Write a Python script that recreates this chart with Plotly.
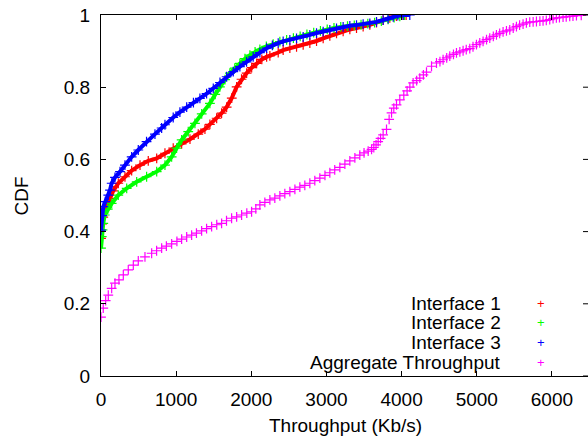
import plotly.graph_objects as go

# ---- data (throughput Kb/s, CDF) ----
if1_x = [0, 15, 30, 57, 120, 164, 230, 319, 408, 519, 629, 741, 851, 961, 1073, 1184, 1294, 1383,
         1449, 1539, 1605, 1672, 1740, 1805, 1870, 1938, 2005, 2071, 2140, 2204, 2247, 2358, 2424,
         2513, 2602, 2690, 2779, 2868, 2956, 3045, 3134, 3222, 3311, 3400, 3488, 3577, 3666, 3754,
         3843, 3930, 4020, 4060]
if1_y = [0.381, 0.421, 0.440, 0.462, 0.492, 0.513, 0.534, 0.552, 0.569, 0.584, 0.596, 0.603, 0.617,
         0.631, 0.643, 0.656, 0.670, 0.684, 0.697, 0.714, 0.728, 0.745, 0.770, 0.801, 0.822, 0.839,
         0.854, 0.866, 0.877, 0.884, 0.887, 0.896, 0.903, 0.908, 0.912, 0.917, 0.922, 0.928, 0.935,
         0.942, 0.949, 0.955, 0.960, 0.964, 0.968, 0.973, 0.979, 0.986, 0.992, 0.997, 1.0, 1.0]

if2_x = [0, 10, 20, 30, 50, 90, 142, 230, 342, 475, 607, 741, 851, 940, 1006, 1073, 1161, 1250,
         1340, 1449, 1520, 1582, 1650, 1715, 1780, 1848, 1915, 1981, 2050, 2114, 2200, 2291, 2380,
         2470, 2560, 2650, 2740, 2830, 2920, 3010, 3100, 3190, 3280, 3370, 3460, 3550, 3640, 3730,
         3820, 3900, 3976, 4040]
if2_y = [0.354, 0.386, 0.405, 0.423, 0.446, 0.462, 0.478, 0.501, 0.520, 0.538, 0.552, 0.566, 0.584,
         0.607, 0.631, 0.654, 0.677, 0.700, 0.726, 0.755, 0.780, 0.801, 0.821, 0.839, 0.853, 0.866,
         0.879, 0.889, 0.898, 0.905, 0.913, 0.919, 0.926, 0.931, 0.936, 0.941, 0.946, 0.951, 0.956,
         0.960, 0.964, 0.967, 0.969, 0.971, 0.973, 0.976, 0.979, 0.983, 0.988, 0.993, 0.996, 1.0]

if3_x = [0, 15, 30, 57, 97, 120, 142, 186, 253, 319, 408, 496, 606, 718, 807, 851, 961, 1050, 1140,
         1230, 1316, 1405, 1494, 1583, 1672, 1760, 1848, 1937, 2025, 2114, 2204, 2280, 2358, 2424,
         2513, 2602, 2690, 2779, 2868, 2956, 3045, 3134, 3222, 3311, 3400, 3488, 3577, 3666, 3754,
         3820, 3888, 3950, 4020, 4109]
if3_y = [0.404, 0.444, 0.469, 0.483, 0.501, 0.515, 0.534, 0.550, 0.566, 0.584, 0.607, 0.626, 0.649,
         0.670, 0.687, 0.696, 0.716, 0.731, 0.745, 0.757, 0.769, 0.782, 0.797, 0.813, 0.829, 0.843,
         0.857, 0.870, 0.884, 0.896, 0.908, 0.916, 0.922, 0.927, 0.931, 0.935, 0.939, 0.945, 0.950,
         0.954, 0.959, 0.963, 0.967, 0.970, 0.972, 0.975, 0.977, 0.981, 0.986, 0.990, 0.995, 0.998,
         1.0, 1.0]

agg_x = [0, 30, 62, 97, 142, 186, 239, 297, 363, 430, 496, 585, 674, 740, 807, 870, 940, 1010,
         1073, 1140, 1206, 1270, 1339, 1405, 1472, 1540, 1605, 1670, 1738, 1805, 1871, 1940, 2004,
         2060, 2114, 2180, 2247, 2313, 2380, 2446, 2513, 2580, 2646, 2712, 2779, 2845, 2912, 2980,
         3045, 3110, 3178, 3245, 3311, 3378, 3444, 3500, 3555, 3600, 3630, 3660, 3688, 3720, 3754,
         3799, 3834, 3866, 3896, 3932, 3976, 4029, 4073, 4110, 4153, 4200, 4242, 4290, 4331, 4398,
         4464, 4510, 4552, 4600, 4641, 4690, 4730, 4775, 4818, 4860, 4907, 4950, 4996, 5040, 5084,
         5130, 5173, 5220, 5262, 5305, 5350, 5395, 5439, 5485, 5528, 5570, 5616, 5660, 5705, 5750,
         5794, 5840, 5882, 5925, 5971, 6015, 6059, 6100, 6148, 6190, 6237, 6280, 6326, 6390, 6459]
agg_y = [0.163, 0.188, 0.209, 0.224, 0.243, 0.257, 0.266, 0.280, 0.294, 0.307, 0.319, 0.330, 0.340,
         0.347, 0.354, 0.360, 0.366, 0.373, 0.379, 0.385, 0.390, 0.396, 0.402, 0.408, 0.414, 0.419,
         0.423, 0.430, 0.437, 0.441, 0.446, 0.451, 0.455, 0.463, 0.474, 0.481, 0.488, 0.493, 0.499,
         0.505, 0.511, 0.517, 0.523, 0.528, 0.534, 0.541, 0.548, 0.556, 0.563, 0.571, 0.578, 0.587,
         0.596, 0.604, 0.612, 0.618, 0.623, 0.628, 0.633, 0.640, 0.649, 0.658, 0.668, 0.683, 0.711,
         0.729, 0.742, 0.751, 0.765, 0.778, 0.790, 0.800, 0.812, 0.818, 0.825, 0.834, 0.842, 0.858,
         0.867, 0.871, 0.876, 0.881, 0.886, 0.891, 0.895, 0.898, 0.901, 0.904, 0.907, 0.912, 0.918,
         0.923, 0.927, 0.932, 0.936, 0.941, 0.945, 0.949, 0.953, 0.956, 0.959, 0.964, 0.968, 0.972,
         0.975, 0.978, 0.980, 0.981, 0.982, 0.983, 0.984, 0.985, 0.987, 0.990, 0.992, 0.993, 0.994,
         0.995, 0.996, 0.997, 0.998, 0.999]

series_names = ["Interface 1", "Interface 2", "Interface 3", "Aggregate Throughput"]
series_colors = ["#ff0000", "#00ff00", "#0000ff", "#ff00ff"]

x_ticks = [0, 1000, 2000, 3000, 4000, 5000, 6000]
x_tick_labels = ["0", "1000", "2000", "3000", "4000", "5000", "6000"]
y_ticks = [0, 0.2, 0.4, 0.6, 0.8, 1.0]
y_tick_labels = ["0", "0.2", "0.4", "0.6", "0.8", "1"]

FONT = "Liberation Sans, Arial, sans-serif"

fig = go.Figure()
data = [(if1_x, if1_y), (if2_x, if2_y), (if3_x, if3_y), (agg_x, agg_y)]
for i, ((xs, ys), name, col) in enumerate(zip(data, series_names, series_colors)):
    dense = i < 3
    fig.add_trace(go.Scatter(
        x=xs, y=ys, name=name,
        mode="lines+markers" if dense else "markers",
        line=dict(color=col, width=4),
        marker=dict(symbol="cross-thin", size=7, color=col, line=dict(color=col, width=1.2)),
        showlegend=False,
    ))

# gnuplot-style legend: right-aligned text, marker to the right
L, R, T, B = 101, 0, 15, 60
W, H = 588 - L - R, 436 - T - B
def px_x(p):
    return (p - L) / W
def px_y(p):
    return (436 - B - p) / H

legend_rows = [303, 322.5, 342, 362]
for name, col, py in zip(series_names, series_colors, legend_rows):
    fig.add_annotation(xref="paper", yref="paper", x=px_x(503), y=px_y(py),
                       text=name, showarrow=False, xanchor="right", yanchor="middle",
                       font=dict(family=FONT, size=19, color="black"))
    fig.add_annotation(xref="paper", yref="paper", x=px_x(541), y=px_y(py),
                       text="+", showarrow=False, xanchor="center", yanchor="middle",
                       font=dict(family=FONT, size=13, color=col))

fig.add_annotation(xref="paper", yref="paper", x=px_x(21), y=px_y(196.5),
                   text="CDF", textangle=-90, showarrow=False,
                   xanchor="center", yanchor="middle",
                   font=dict(family=FONT, size=19, color="black"))
fig.add_annotation(xref="paper", yref="paper", x=px_x(345.5), y=px_y(425),
                   text="Throughput (Kb/s)", showarrow=False,
                   xanchor="center", yanchor="middle",
                   font=dict(family=FONT, size=19, color="black"))

# right-side tick marks (the right border itself lies just outside the picture)
for yv in y_ticks:
    fig.add_shape(type="line", xref="paper", yref="y", x0=1 - 5 / W, x1=1, y0=yv, y1=yv,
                  line=dict(color="black", width=1))

axis_common = dict(showgrid=False, zeroline=False, showline=True, linecolor="black",
                   linewidth=1, ticks="inside", ticklen=5, tickcolor="black", tickwidth=1,
                   tickfont=dict(family=FONT, size=19, color="black"))

fig.update_xaxes(range=[0, 6480], tickvals=x_ticks, ticktext=x_tick_labels,
                 ticklabelstandoff=6, mirror="ticks", **axis_common)
fig.update_yaxes(range=[0, 1], tickvals=y_ticks, ticktext=y_tick_labels,
                 ticklabelstandoff=6, mirror=False, **axis_common)

fig.update_layout(width=588, height=436, margin=dict(l=L, r=R, t=T, b=B),
                  paper_bgcolor="white", plot_bgcolor="white", showlegend=False)

fig.write_html("out.html")
